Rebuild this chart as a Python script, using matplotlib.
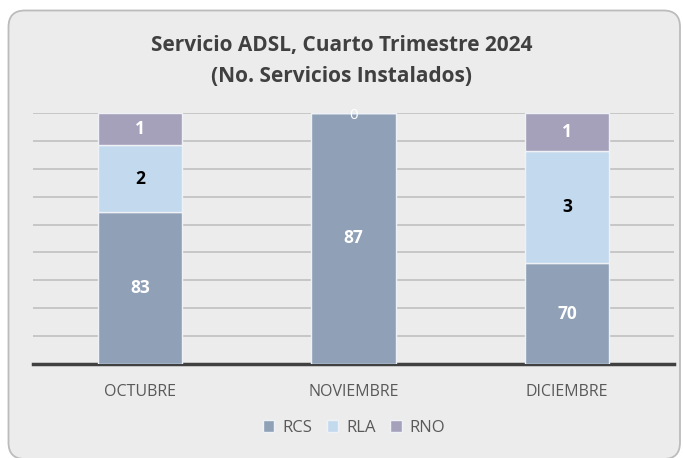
import numpy as np
import matplotlib
matplotlib.use("Agg")
import matplotlib.pyplot as plt
from matplotlib.patches import FancyBboxPatch

# ---- data ----
months = ["OCTUBRE", "NOVIEMBRE", "DICIEMBRE"]
series = ["RCS", "RLA", "RNO"]
# displayed labels
rcs_labels = [83, 87, 70]
rla_labels = [2, None, 3]
rno_labels = [1, 0, 1]
# drawn bar shares (% of column height, as measured in the reference)
rcs_share = [60.6, 100.0, 40.1]
rla_share = [26.6, 0.0, 44.9]
rno_share = [12.8, 0.0, 15.0]

colors = {"RCS": "#8fa0b7", "RLA": "#c3d9ed", "RNO": "#a6a1bb"}
label_colors = {"RCS": "white", "RLA": "black", "RNO": "white"}

plt.rcParams["font.family"] = ["Open Sans", "DejaVu Sans"]

W, H = 683, 458
fig = plt.figure(figsize=(W / 100, H / 100), dpi=100)
fig.patch.set_facecolor("white")

# rounded panel
px0, py0, px1, py1 = 8.5, 10.5, 680, 459
panel = FancyBboxPatch((px0 / W, 1 - py1 / H), (px1 - px0) / W, (py1 - py0) / H,
                       boxstyle="round,pad=0,rounding_size=0.024",
                       transform=fig.transFigure, facecolor="#ececec",
                       edgecolor="#bcbcbc", linewidth=1.3, zorder=-5,
                       mutation_aspect=W / H)
fig.patches.append(panel)

ax = fig.add_axes([33 / W, 1 - 364 / H, (674 - 33) / W, (364 - 113) / H])
ax.set_zorder(2)
ax.set_facecolor("none")

x = np.arange(len(months))
bw = 0.395
shares = {"RCS": rcs_share, "RLA": rla_share, "RNO": rno_share}
labels = {"RCS": rcs_labels, "RLA": rla_labels, "RNO": rno_labels}
bottom = np.zeros(len(months))
for s in series:
    vals = np.array(shares[s])
    ax.bar(x, vals, bw, bottom=bottom, color=colors[s], edgecolor="#eef2f6",
           linewidth=1.0, label=s, zorder=3)
    for i, (v, lab) in enumerate(zip(vals, labels[s])):
        if lab is None:
            continue
        yc = bottom[i] + v / 2
        if v == 0:
            ax.text(x[i], yc - 0.8, str(lab), ha="center", va="center",
                    color="white", fontsize=11, zorder=5, clip_on=False)
        else:
            ax.text(x[i], yc, str(lab), ha="center", va="center",
                    color=label_colors[s], fontsize=12.5, fontweight="bold",
                    zorder=5)
    bottom = bottom + vals

ax.set_xlim(-0.5, 2.5)
ax.set_ylim(0, 100)
ax.set_yticks(np.linspace(0, 100, 10))
ax.yaxis.grid(True, color="#c0c0c0", linewidth=1.2, zorder=0)
ax.set_axisbelow(True)
ax.tick_params(axis="y", left=False, labelleft=False)
ax.tick_params(axis="x", bottom=False, pad=11, labelsize=11.5, labelcolor="#595959")
ax.set_xticks(x)
ax.set_xticklabels(months)
for sp in ["top", "right", "left"]:
    ax.spines[sp].set_visible(False)
ax.spines["bottom"].set_color("#404040")
ax.spines["bottom"].set_linewidth(2.5)

fig.text(0.5, 1 - 46 / H, "Servicio ADSL, Cuarto Trimestre 2024",
         ha="center", va="center", fontsize=15, fontweight="bold", color="#404040")
fig.text(0.5, 1 - 77 / H, "(No. Servicios Instalados)",
         ha="center", va="center", fontsize=15, fontweight="bold", color="#404040")

fig.legend(loc="center", bbox_to_anchor=(354 / W, 1 - 428 / H), ncol=3,
           frameon=False, handlelength=0.7, handleheight=0.7,
           handletextpad=0.45, columnspacing=0.9, fontsize=12,
           labelcolor="#595959")

fig.savefig("out.png", dpi=100, facecolor="white")
